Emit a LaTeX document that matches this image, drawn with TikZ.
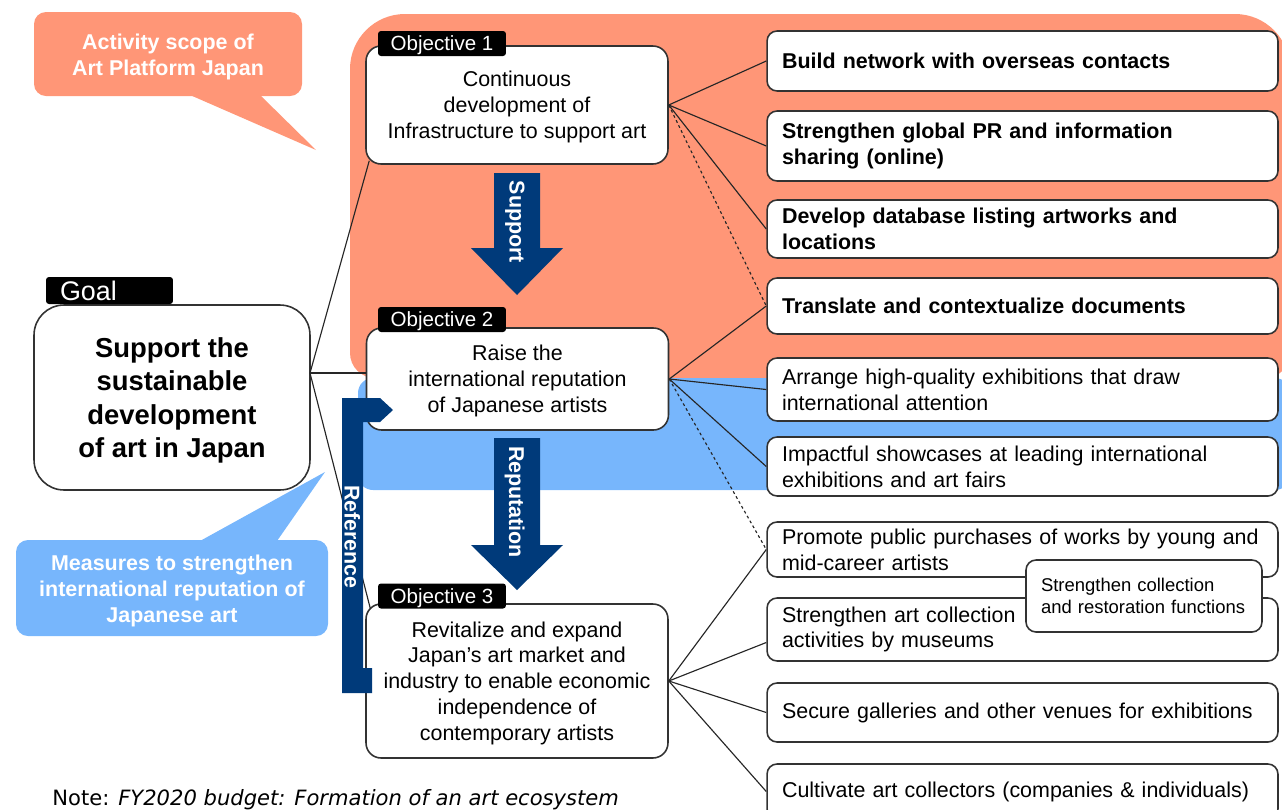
\documentclass[tikz,border=0pt]{standalone}
\usepackage{fontspec}
\setmainfont{Liberation Sans}
\newfontfamily\notefont{DejaVu Sans}
\usetikzlibrary{calc}
\definecolor{scopeorange}{RGB}{255,150,119}
\definecolor{measureblue}{RGB}{119,182,252}
\definecolor{arrownavy}{RGB}{0,58,122}
\definecolor{boxline}{RGB}{50,50,50}

\begin{document}
\begin{tikzpicture}[x=0.02cm,y=-0.02cm,
  every node/.style={font=\fontsize{12.2}{14.7}\selectfont,text depth=0pt},
  objbox/.style={draw=boxline,fill=white,line width=0.9pt,rounded corners=0.3cm,minimum width=6.04cm,align=center,inner sep=0pt},
  tagbox/.style={fill=black,text=white,rounded corners=0.06cm,minimum width=2.56cm,minimum height=0.5cm,inner sep=0pt,font=\fontsize{11.7}{14}\selectfont},
  itembox/.style={draw=boxline,fill=white,line width=0.9pt,rounded corners=0.2cm,minimum width=10.22cm,text width=9.62cm,text depth=,align=left,inner xsep=0.3cm,inner ysep=0pt},
  keyitem/.style={itembox,font=\bfseries\fontsize{12.2}{14.7}\selectfont},
  link/.style={line width=0.65pt,black!85},
  weaklink/.style={link,dash pattern=on 1.6pt off 1.6pt},
  bigarrow/.style={fill=arrownavy},
  arrowtext/.style={text=white,font=\bfseries\fontsize{12.2}{14.7}\selectfont,rotate=-90,inner sep=0pt},
  callouttext/.style={text=white,align=center,inner sep=0pt,font=\bfseries\fontsize{12.2}{14.7}\selectfont}
]
\useasboundingbox (0,0) rectangle (1282,809);

\fill[scopeorange,rounded corners=1.1cm] (350,14) rectangle (1290,378);
\fill[scopeorange,rounded corners=0.5cm] (350,120) rectangle (1290,378);
\fill[measureblue,rounded corners=0.3cm] (358,378) rectangle (1290,490);

\fill[scopeorange,rounded corners=0.24cm] (34,12) rectangle (302,96);
\fill[scopeorange] (190,95) -- (260,95) -- (316,150) -- cycle;
\node[callouttext] (scopenote) at (168,55) {Activity scope of\\Art Platform Japan};

\fill[measureblue,rounded corners=0.24cm] (16,540) rectangle (328,636);
\fill[measureblue] (200,541) -- (277,541) -- (325,472) -- cycle;
\node[callouttext] (measurenote) at (172,589) {Measures to strengthen\\international reputation of\\Japanese art};

\node[draw=boxline,fill=white,line width=0.9pt,rounded corners=0.6cm,minimum width=5.52cm,minimum height=3.7cm,align=center,inner sep=0pt,font=\bfseries\fontsize{15.6}{18.9}\selectfont] (goal) at (172,397.5) {Support the\\sustainable\\development\\of art in Japan};

\node[objbox,minimum height=2.36cm] (obj1) at (517,105) {Continuous\\development of\\Infrastructure to support art};
\node[objbox,minimum height=2.04cm] (obj2) at (517.5,379) {Raise the\\international reputation\\of Japanese artists};
\node[objbox,minimum height=3.08cm] (obj3) at (517,681) {Revitalize and expand\\Japan's art market and\\industry to enable economic\\independence of\\contemporary artists};

\node[keyitem,minimum height=1.2cm] (build) at (1022.5,61) {Build network with overseas contacts};
\node[keyitem,minimum height=1.4cm] (pr) at (1022.5,146) {Strengthen global PR and information\\sharing (online)};
\node[keyitem,minimum height=1.16cm] (database) at (1022.5,229) {Develop database listing artworks and\\locations};
\node[keyitem,minimum height=1.12cm] (translate) at (1022.5,306) {Translate and contextualize documents};
\node[itembox,minimum height=1.26cm] (exhibit) at (1022.5,389.5) {Arrange high-quality exhibitions that draw\\international attention};
\node[itembox,minimum height=1.18cm] (showcase) at (1022.5,466.5) {Impactful showcases at leading international\\exhibitions and art fairs};
\node[itembox,minimum height=1.1cm] (purchase) at (1022.5,549.5) {Promote public purchases of works by young and\\mid-career artists};
\node[itembox,minimum height=1.26cm] (museum) at (1022.5,629.5) {Strengthen art collection\\activities by museums};
\node[itembox,minimum height=1.18cm] (venue) at (1022.5,712.5) {Secure galleries and other venues for exhibitions};
\node[itembox,minimum height=1.1cm] (collector) at (1022.5,791.5) {Cultivate art collectors (companies \& individuals)};

\coordinate (goalhub) at (310,373);
\draw[link] (goalhub) -- ($(obj1.south west)+(4,-4)$);
\draw[link] (goalhub) -- (obj2.west |- goalhub);
\draw[link] (goalhub) -- ($(obj3.north west)+(5,5)$);

\draw[link] (obj1.east) -- (build.west);
\draw[link] (obj1.east) -- (pr.west);
\draw[link] (obj1.east) -- (database.west);
\draw[weaklink] (obj1.east) -- (translate.west);
\draw[link] (obj2.east) -- (translate.west);
\draw[link] (obj2.east) -- (exhibit.west);
\draw[link] (obj2.east) -- (showcase.west);
\draw[weaklink] (obj2.east) -- (purchase.west);
\draw[link] (obj3.east) -- (purchase.west);
\draw[link] (obj3.east) -- ($(museum.west)+(0,13)$);
\draw[link] (obj3.east) -- (venue.west);
\draw[link] (obj3.east) -- (collector.west);

\node[tagbox,minimum width=2.54cm,minimum height=0.54cm,text width=1.98cm,text depth=,align=left,font=\fontsize{15.3}{18}\selectfont] (goaltag) at (109.5,290.5) {Goal};
\node[tagbox] (tag1) at (442,43.5) {Objective 1};
\node[tagbox] (tag2) at (442,319.5) {Objective 2};
\node[tagbox] (tag3) at (442,596) {Objective 3};

\fill[bigarrow] (494,173) -- (540,173) -- (540,248) -- (563,248) -- (517,295) -- (471,248) -- (494,248) -- cycle;
\node[arrowtext] (supporttext) at (517,222) {Support};
\fill[bigarrow] (494,438) -- (540,438) -- (540,545) -- (563,545) -- (517,590) -- (471,545) -- (494,545) -- cycle;
\node[arrowtext] (reputationtext) at (517,502) {Reputation};

\fill[bigarrow] (342,398) -- (380,398) -- (393,410) -- (380,422) -- (363,422) -- (363,668) -- (372,668) -- (372,693) -- (342,693) -- cycle;
\node[arrowtext] (referencetext) at (352.5,537) {Reference};

\node[draw=boxline,fill=white,line width=0.9pt,rounded corners=0.2cm,minimum width=4.72cm,minimum height=1.44cm,text width=4.12cm,text depth=,align=left,inner sep=0pt,font=\fontsize{10.5}{12.5}\selectfont] (restore) at (1144,596) {Strengthen collection\\and restoration functions};

\node[anchor=west,inner sep=0pt,font=\notefont\fontsize{12}{14}\selectfont] (note) at (52,797) {Note: \textit{FY2020 budget: Formation of an art ecosystem}};
\end{tikzpicture}
\end{document}
